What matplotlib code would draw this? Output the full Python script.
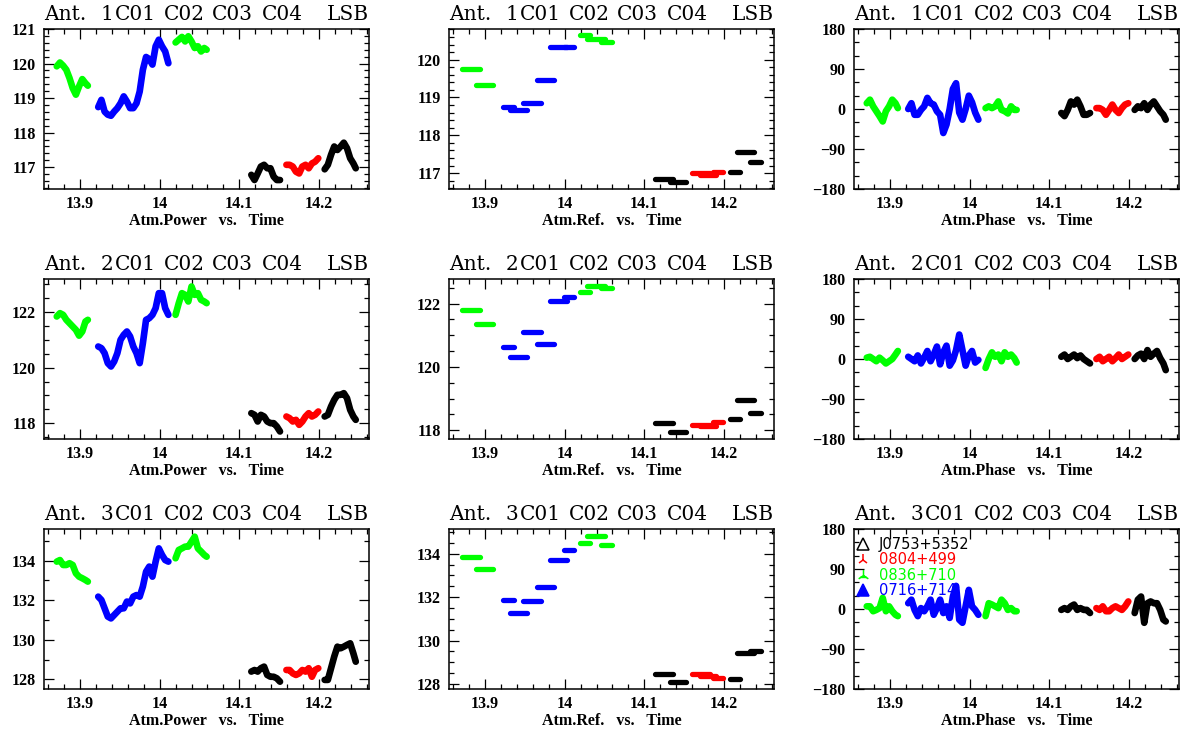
import matplotlib
matplotlib.use("Agg")
import matplotlib.pyplot as plt
from matplotlib.ticker import MultipleLocator, FuncFormatter
from matplotlib.path import Path

# colours per source
COL = {"k": "black", "r": "#ff0000", "g": "#00ff00", "b": "#0000ff"}
SRC_NAMES = ["J0753+5352", "0804+499", "0836+710", "0716+714"]
SRC_KEYS = ["k", "r", "g", "b"]

# scan order: green, blue, green, black, red, black
seg_src = ["g", "b", "g", "k", "r", "k"]

# sample times (hours) of each scan
t_g1 = [13.871, 13.875, 13.879, 13.883, 13.887, 13.891, 13.895, 13.899, 13.903, 13.907, 13.910]
t_b = [13.923, 13.927, 13.931, 13.935, 13.939, 13.943, 13.947, 13.951, 13.955, 13.959, 13.963, 13.967,
       13.971, 13.975, 13.979, 13.983, 13.987, 13.991, 13.995, 13.999, 14.003, 14.007, 14.011]
t_g2 = [14.020, 14.024, 14.028, 14.032, 14.036, 14.040, 14.044, 14.048, 14.052, 14.056, 14.059]
t_k1 = [14.115, 14.119, 14.123, 14.127, 14.131, 14.135, 14.139, 14.143, 14.147, 14.151]
t_r = [14.159, 14.163, 14.167, 14.171, 14.175, 14.179, 14.183, 14.187, 14.191, 14.195, 14.199]
t_k2 = [14.207, 14.211, 14.215, 14.219, 14.223, 14.227, 14.231, 14.235, 14.239, 14.243, 14.246]
seg_t = [t_g1, t_b, t_g2, t_k1, t_r, t_k2]

# Atm.Power per antenna, one list per scan
pow1 = [
    [119.92, 120.03, 119.94, 119.82, 119.58, 119.29, 119.10, 119.34, 119.55, 119.43, 119.36],
    [118.74, 118.95, 118.61, 118.52, 118.49, 118.61, 118.71, 118.85, 119.05, 118.90, 118.71, 118.71,
     118.85, 119.19, 119.82, 120.19, 120.13, 119.97, 120.50, 120.69, 120.50, 120.35, 120.01],
    [120.61, 120.69, 120.77, 120.64, 120.79, 120.64, 120.45, 120.50, 120.35, 120.45, 120.40],
    [116.78, 116.63, 116.82, 117.02, 117.07, 116.97, 116.97, 116.73, 116.63, 116.63],
    [117.07, 117.07, 117.02, 116.87, 116.82, 117.02, 117.07, 116.97, 117.11, 117.16, 117.26],
    [116.94, 117.07, 117.36, 117.60, 117.50, 117.60, 117.71, 117.55, 117.26, 117.11, 116.97],
]
pow2 = [
    [121.84, 121.96, 121.90, 121.72, 121.60, 121.48, 121.36, 121.15, 121.30, 121.66, 121.72],
    [120.76, 120.70, 120.52, 120.16, 120.04, 120.22, 120.52, 121.00, 121.18, 121.30, 121.12, 120.76,
     120.52, 120.16, 120.88, 121.72, 121.78, 121.90, 122.14, 122.68, 122.68, 122.14, 121.90],
    [121.90, 122.32, 122.68, 122.62, 122.38, 122.92, 122.62, 122.68, 122.44, 122.38, 122.32],
    [118.36, 118.30, 118.06, 118.30, 118.24, 118.06, 118.00, 118.00, 117.88, 117.70],
    [118.24, 118.18, 118.06, 118.12, 117.94, 118.06, 118.24, 118.36, 118.24, 118.30, 118.42],
    [118.24, 118.30, 118.60, 118.84, 119.02, 119.02, 119.08, 118.90, 118.48, 118.24, 118.12],
]
pow3 = [
    [133.95, 134.03, 133.78, 133.78, 133.87, 133.78, 133.36, 133.19, 133.11, 133.02, 132.94],
    [132.18, 132.01, 131.59, 131.17, 131.08, 131.25, 131.42, 131.59, 131.59, 131.93, 131.84, 132.18,
     132.26, 132.18, 132.69, 133.44, 133.70, 133.19, 133.95, 134.62, 134.29, 134.03, 133.95],
    [134.12, 134.54, 134.62, 134.71, 134.71, 134.96, 135.21, 134.62, 134.46, 134.29, 134.20],
    [128.39, 128.47, 128.39, 128.56, 128.64, 128.22, 128.13, 128.13, 128.05, 127.88],
    [128.47, 128.47, 128.30, 128.22, 128.30, 128.47, 128.39, 128.56, 128.13, 128.47, 128.56],
    [127.97, 127.97, 128.56, 129.15, 129.65, 129.57, 129.65, 129.74, 129.82, 129.31, 128.89],
]

# Atm.Phase (deg)
pha1 = [
    [13, 21, 6, -5, -16, -28, -5, 6, 21, 13, 2],
    [0, 13, -13, -13, -2, 6, 25, 13, 10, -5, -13, -54, -35, 0, 45, 58, -8, -24, 0, 30, 15, -8, -24],
    [2, 6, 2, 6, 17, -2, -5, -10, 6, -2, -2],
    [-9, -16, -2, 17, 10, 21, 6, -13, -13, -9],
    [2, 2, -2, -13, -2, 10, -2, -9, 2, 10, 13],
    [-2, 6, 2, 13, -2, 10, 17, 6, -5, -13, -24],
]
pha2 = [
    [3, 5, 0, -5, 3, -3, -10, -5, 0, 10, 18],
    [5, 0, -5, 8, -10, 3, 18, -5, 10, 28, -12, 15, 30, -15, -3, 20, 55, 20, -15, 8, 18, -8, -2],
    [-20, 0, 15, 5, 10, -5, 15, 5, 10, 2, -8],
    [5, 10, 0, 5, 10, 2, 8, 0, -5, -10],
    [0, 5, -5, 0, 5, -5, 2, 10, 0, 5, 10],
    [0, 8, 12, 0, 20, 5, 12, 18, 2, -10, -25],
]
pha3 = [
    [6, 6, -5, -2, 2, 25, -5, 6, -5, -13, -16],
    [13, 21, -2, -16, 2, -5, 6, 21, -13, 2, 21, -9, 6, -20, 28, 52, -24, -31, 6, 43, 6, -2, -13],
    [-16, 13, 10, 6, 2, 21, 13, -2, 2, -5, -5],
    [-2, 2, -2, 6, 10, -2, 2, -2, -2, -9],
    [2, -2, 6, -5, -5, 2, 6, 2, -2, 6, 17],
    [-9, 21, 28, -31, 13, 17, 13, 13, -2, -24, -28],
]

# Atm.Ref. : constant per sub-scan (start, end, source, value)
ref_t0 = [13.8717, 13.8884, 13.9227, 13.9311, 13.9478, 13.9654, 13.9821, 13.9988, 14.0193, 14.0285,
          14.0456, 14.1138, 14.1318, 14.1602, 14.1694, 14.1861, 14.2070, 14.2162, 14.2329]
ref_t1 = [13.8935, 13.9102, 13.9361, 13.9528, 13.9704, 13.9867, 14.0034, 14.0118, 14.0323, 14.0502,
          14.0590, 14.1359, 14.1527, 14.1819, 14.1903, 14.1986, 14.2204, 14.2371, 14.2459]
ref_src = ["g", "g", "b", "b", "b", "b", "b", "b", "g", "g", "g", "k", "k", "r", "r", "r", "k", "k", "k"]
ref1 = [119.76, 119.34, 118.75, 118.66, 118.85, 119.47, 120.34, 120.33, 120.64, 120.55, 120.46,
        116.85, 116.76, 117.00, 116.95, 117.04, 117.03, 117.56, 117.29]
ref2 = [121.80, 121.37, 120.62, 120.32, 121.10, 120.72, 122.09, 122.21, 122.37, 122.57, 122.50,
        118.22, 117.95, 118.15, 118.14, 118.27, 118.35, 118.95, 118.55]
ref3 = [133.86, 133.29, 131.85, 131.26, 131.82, 132.46, 133.72, 134.17, 134.49, 134.83, 134.40,
        128.45, 128.11, 128.45, 128.37, 128.26, 128.22, 129.42, 129.54]

antennas = [1, 2, 3]
pow_all = [pow1, pow2, pow3]
pha_all = [pha1, pha2, pha3]
ref_all = [ref1, ref2, ref3]

# axis limits / tick steps per panel (row = antenna)
pow_lim = [(116.37, 121.0), (117.43, 123.19), (127.51, 135.6)]
pow_step = [(1, 0.2), (2, 0.5), (2, 1)]
ref_lim = [(116.58, 120.81), (117.72, 122.78), (127.77, 135.14)]
ref_step = [(1, 0.2), (2, 0.5), (2, 0.5)]
XLIM = (13.855, 14.2626)

SERIF = "DejaVu Serif"
TICKFONT = "Liberation Serif"

W, H = 1184, 734
col_left = [44, 449, 854]
row_top = [29, 279, 529]
AW, AH = 325, 160

fig = plt.figure(figsize=(W / 100, H / 100), dpi=100)


def setup(ax, ylim, major, minor, label):
    ax.set_xlim(*XLIM)
    ax.set_ylim(*ylim)
    ax.xaxis.set_major_locator(MultipleLocator(0.1))
    ax.xaxis.set_minor_locator(MultipleLocator(0.02))
    ax.yaxis.set_major_locator(MultipleLocator(major))
    ax.yaxis.set_minor_locator(MultipleLocator(minor))
    ax.xaxis.set_major_formatter(FuncFormatter(lambda v, p: "%g" % round(v, 3)))
    ax.yaxis.set_major_formatter(FuncFormatter(lambda v, p: ("%g" % round(v, 3)).replace("-", "\u2212")))
    ax.tick_params(which="both", direction="in", top=True, right=True, width=0.9, color="black")
    ax.tick_params(which="major", length=7)
    ax.tick_params(which="minor", length=3.5)
    ax.tick_params(axis="x", pad=5)
    ax.tick_params(axis="y", pad=6)
    for lab in ax.get_xticklabels() + ax.get_yticklabels():
        lab.set_fontfamily(TICKFONT)
        lab.set_fontweight("bold")
        lab.set_fontsize(11.5)
    for s in ax.spines.values():
        s.set_linewidth(1.1)
    ax.set_xlabel(label, family=TICKFONT, weight="bold", fontsize=11.5, labelpad=1)


def title(ax, ant):
    y = 1.056
    kw = dict(transform=ax.transAxes, va="baseline", family=SERIF, fontsize=14.5)
    ax.text(0.0, y, "Ant.", ha="left", **kw)
    ax.text(0.213, y, str(ant), ha="right", **kw)
    for x, c in zip([0.218, 0.368, 0.518, 0.670], ["C01", "C02", "C03", "C04"]):
        ax.text(x, y, c, ha="left", **kw)
    ax.text(1.0, y, "LSB", ha="right", **kw)


def trace(ax, segs):
    for t, v, s in zip(seg_t, segs, seg_src):
        ax.plot(t, v, color=COL[s], lw=4.8, solid_capstyle="round", solid_joinstyle="round")


for r, ant in enumerate(antennas):
    rect = [None, 1 - (row_top[r] + AH) / H, AW / W, AH / H]
    # power
    ax = fig.add_axes([col_left[0] / W] + rect[1:])
    trace(ax, pow_all[r])
    setup(ax, pow_lim[r], *pow_step[r], "Atm.Power   vs.   Time")
    title(ax, ant)
    # ref
    ax = fig.add_axes([col_left[1] / W] + rect[1:])
    for t0, t1, s, v in zip(ref_t0, ref_t1, ref_src, ref_all[r]):
        ax.plot([t0, t1], [v, v], color=COL[s], lw=3.8, solid_capstyle="round")
    setup(ax, ref_lim[r], *ref_step[r], "Atm.Ref.   vs.   Time")
    title(ax, ant)
    # phase
    ax = fig.add_axes([col_left[2] / W] + rect[1:])
    trace(ax, pha_all[r])
    setup(ax, (-180, 180), 90, 30, "Atm.Phase   vs.   Time")
    title(ax, ant)
    last = ax

# legend of sources in the last phase panel
green_sym = Path([(0, 1), (0, 0), (-0.87, -0.6), (0, 0), (0.87, -0.6), (-0.55, -0.35), (0.55, -0.35)],
                 [Path.MOVETO, Path.LINETO, Path.LINETO, Path.MOVETO, Path.LINETO, Path.MOVETO, Path.LINETO])
markers = {"k": dict(marker="^", mfc="none", mec="black"),
           "r": dict(marker="2", mec="#ff0000"),
           "g": dict(marker=green_sym, mec="#00ff00", mfc="none"),
           "b": dict(marker="^", mfc="#0000ff", mec="#0000ff")}
ys = [0.905, 0.808, 0.712, 0.618]
for y, key, name in zip(ys, SRC_KEYS, SRC_NAMES):
    last.plot([0.028], [y], transform=last.transAxes, ms=8, mew=1.1, ls="none", **markers[key])
    last.text(0.077, y, name, transform=last.transAxes, color=COL[key], va="center",
              family="DejaVu Sans", fontsize=10.5)

fig.savefig("out.png", dpi=100)
